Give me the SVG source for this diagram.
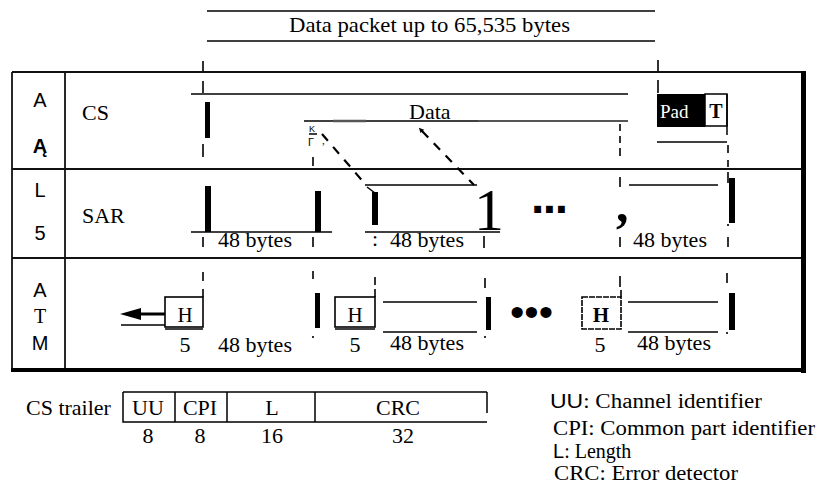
<svg xmlns="http://www.w3.org/2000/svg" width="819" height="485" viewBox="0 0 819 485">
<style>
.t{font-family:"Liberation Serif","Times New Roman",serif;font-size:22px;fill:#000}
.tm{text-anchor:middle}
.s{font-family:"Liberation Sans",Arial,sans-serif;font-size:20px;fill:#000;text-anchor:middle}
.lg{font-family:"Liberation Serif","Times New Roman",serif;font-size:20px;fill:#000}
.sn{font-family:"Liberation Sans",Arial,sans-serif}
.ln{stroke:#000;stroke-width:1.5;fill:none}
.fr{stroke:#111;stroke-width:1.8;fill:none}
.tk{stroke:#000;stroke-width:1.6;fill:none}
.dg{stroke:#000;stroke-width:2.2;fill:none;stroke-dasharray:9 8}
.bar{fill:#000}
.hb{fill:#fff;stroke:#000;stroke-width:1.6}
</style>
<defs>
<marker id="ah" viewBox="0 0 10 10" refX="1" refY="5" markerWidth="7" markerHeight="5" orient="auto-start-reverse" markerUnits="userSpaceOnUse">
<path d="M0,0 L10,5 L0,10 z" fill="#000"/>
</marker>
</defs>
<rect width="819" height="485" fill="#fff"/>

<g id="packet-label">
<line class="ln" x1="207" y1="11" x2="655" y2="11"/>
<line class="ln" x1="207" y1="41" x2="655" y2="41"/>
<text class="t" x="289" y="32" textLength="281" lengthAdjust="spacingAndGlyphs">Data packet up to 65,535 bytes</text>
</g>

<g id="frame">
<line class="fr" x1="12" y1="72" x2="803" y2="72"/>
<line class="fr" x1="12" y1="72" x2="12" y2="370"/>
<line class="fr" x1="65" y1="72" x2="65" y2="370"/>
<line class="fr" x1="12" y1="169" x2="803" y2="169"/>
<line class="fr" x1="12" y1="258" x2="803" y2="258"/>
<rect class="bar" x="801" y="71" width="5" height="302"/>
<rect class="bar" x="11" y="368" width="795" height="4"/>
</g>

<g id="layer-aal5">
<text class="s" x="40" y="107">A</text>
<text class="s" x="40" y="153" style="font-weight:bold">Ą</text>
<text class="s" x="40" y="197">L</text>
<text class="s" x="40" y="240">5</text>
</g>
<g id="layer-atm">
<text class="s" x="40" y="297">A</text>
<text class="t tm" x="40" y="323" style="font-size:20px">T</text>
<text class="s" x="40" y="350">M</text>
</g>

<g id="cs-row">
<text class="t" x="82" y="120">CS</text>
<line class="ln" x1="191" y1="94" x2="628" y2="94"/>
<rect class="bar" x="205" y="102" width="5" height="36"/>
<line class="ln" x1="304" y1="121" x2="628" y2="121" stroke-width="1.2"/>
<line x1="333" y1="121" x2="366" y2="121" stroke="#555" stroke-width="2.5"/>
<line x1="478" y1="121" x2="628" y2="121" stroke="#555" stroke-width="2.2"/>
<text class="t" x="409" y="119">Data</text>
<text class="sn" x="309" y="132" style="font-size:9px">K</text>
<line class="ln" x1="309" y1="134" x2="317" y2="134" stroke-width="1"/>
<text class="sn" x="308" y="146" style="font-size:11px">Γ</text>
<text class="t" x="322" y="144" style="font-size:11px">,</text>
<rect x="657" y="94" width="48" height="33" fill="#000"/>
<text class="t" x="660" y="118" style="fill:#fff;font-size:19px">Pad</text>
<rect x="705" y="94" width="22" height="32" fill="#fff" stroke="#000" stroke-width="1.5"/>
<text class="t tm" x="716" y="118" style="font-size:20px;font-weight:bold">T</text>
<line class="ln" x1="727" y1="94" x2="727" y2="135" stroke-width="2"/>
<line class="ln" x1="657" y1="142" x2="727" y2="142"/>
</g>

<g id="sar-row">
<text class="t" x="82" y="223">SAR</text>
<rect class="bar" x="205" y="186" width="6" height="46"/>
<rect class="bar" x="315" y="191" width="6" height="41"/>
<line class="ln" x1="191" y1="232" x2="332" y2="232"/>
<text class="t" x="218" y="247">48 bytes</text>
<line class="ln" x1="365" y1="185" x2="477" y2="185"/>
<path d="M367,187 L375,193" class="ln" stroke-width="3"/>
<rect class="bar" x="372" y="192" width="6" height="33"/>
<text class="t tm" x="489" y="230" style="font-size:60px">1</text>
<line class="ln" x1="365" y1="232" x2="500" y2="232"/>
<text class="t" x="372" y="246">:</text>
<text class="t" x="390" y="247">48 bytes</text>
<text class="sn" x="531" y="213" style="font-size:48px;font-weight:bold;letter-spacing:-1.5px">...</text>
<text class="t" x="616" y="221" style="font-size:50px;font-weight:bold">,</text>
<line class="ln" x1="629" y1="185" x2="718" y2="185"/>
<rect class="bar" x="729" y="178" width="6" height="45"/>
<text class="t" x="633" y="247">48 bytes</text>
</g>

<g id="atm-row">
<rect class="hb" x="165" y="297" width="38" height="30"/>
<line class="ln" x1="165" y1="329" x2="203" y2="329"/>
<text class="t tm" x="185" y="322" style="font-size:21px">H</text>
<text class="t tm" x="185" y="352">5</text>
<text class="t" x="218" y="352">48 bytes</text>
<rect class="bar" x="315" y="293" width="5" height="35"/>
<rect class="hb" x="335" y="297" width="40" height="30"/>
<line class="ln" x1="335" y1="329" x2="375" y2="329"/>
<text class="t tm" x="355" y="322" style="font-size:21px">H</text>
<text class="t tm" x="355" y="352">5</text>
<line class="ln" x1="383" y1="302" x2="477" y2="302"/>
<line class="ln" x1="383" y1="332" x2="477" y2="332"/>
<text class="t" x="390" y="350">48 bytes</text>
<rect class="bar" x="486" y="297" width="5" height="33"/>
<text class="sn" x="510" y="326" style="font-size:41px">•••</text>
<rect class="hb" x="582" y="297" width="39" height="32" stroke-dasharray="6 1"/>
<text class="t tm" x="601" y="322" style="font-size:21px;font-weight:bold">H</text>
<text class="t tm" x="600" y="352">5</text>
<line class="ln" x1="628" y1="302" x2="718" y2="302"/>
<line class="ln" x1="628" y1="332" x2="718" y2="332"/>
<text class="t" x="637" y="350">48 bytes</text>
<rect class="bar" x="729" y="293" width="6" height="37"/>
</g>

<g id="connectors">
<g class="tk">
<path d="M203,61V71 M203,81V93 M203,144V157 M203,237V247 M203,272V281 M203,289V297"/>
<path d="M313,157V166 M313,237V247 M313,271V279 M313,336V338"/>
<path d="M375,277V285 M375,289V297"/>
<path d="M484,236V248 M485,278V288 M485,336V338"/>
<path d="M620,124V131 M620,136V143 M620,148V156 M620,177V187 M620,237V247 M620,276V287 M621,290V297"/>
<path d="M658,60V71 M658,80V93"/>
<path d="M728,145V153 M728,160V167 M728,172V183 M728,224V226 M728,237V247 M727,273V283 M727,332V334"/>
</g>
<line class="dg" x1="322" y1="134" x2="366" y2="185"/>
<line class="dg" x1="422" y1="131" x2="474" y2="185" marker-start="url(#ah)"/>
<line x1="165" y1="314" x2="140" y2="314" stroke="#000" stroke-width="3"/>
<path d="M120,314 L141,308 L141,320 z" fill="#000"/>
<line class="ln" x1="121" y1="325" x2="165" y2="325" stroke-width="1.2"/>
</g>

<g id="cs-trailer">
<text class="t" x="26" y="415">CS trailer</text>
<path class="ln" d="M123,392 H487 M123,392 V422 H487 M487,392 V413 M175,392 V422 M227,392 V422 M315,392 V422"/>
<text class="t tm" x="148" y="415">UU</text>
<text class="t tm" x="200" y="415">CPI</text>
<text class="t tm" x="272" y="415">L</text>
<text class="t tm" x="398" y="415">CRC</text>
<text class="t tm" x="148" y="443">8</text>
<text class="t tm" x="200" y="443">8</text>
<text class="t tm" x="272" y="443">16</text>
<text class="t tm" x="403" y="443">32</text>
</g>

<g id="legend">
<text class="lg" x="550" y="408" textLength="212" lengthAdjust="spacingAndGlyphs"><tspan class="sn">UU</tspan>: Channel identifier</text>
<text class="lg" x="553" y="435" textLength="262" lengthAdjust="spacingAndGlyphs">CPI: Common part identifier</text>
<text class="lg" x="553" y="458"><tspan class="sn">L</tspan>: Length</text>
<text class="lg" x="554" y="480" textLength="184" lengthAdjust="spacingAndGlyphs">CRC: Error detector</text>
</g>
</svg>
